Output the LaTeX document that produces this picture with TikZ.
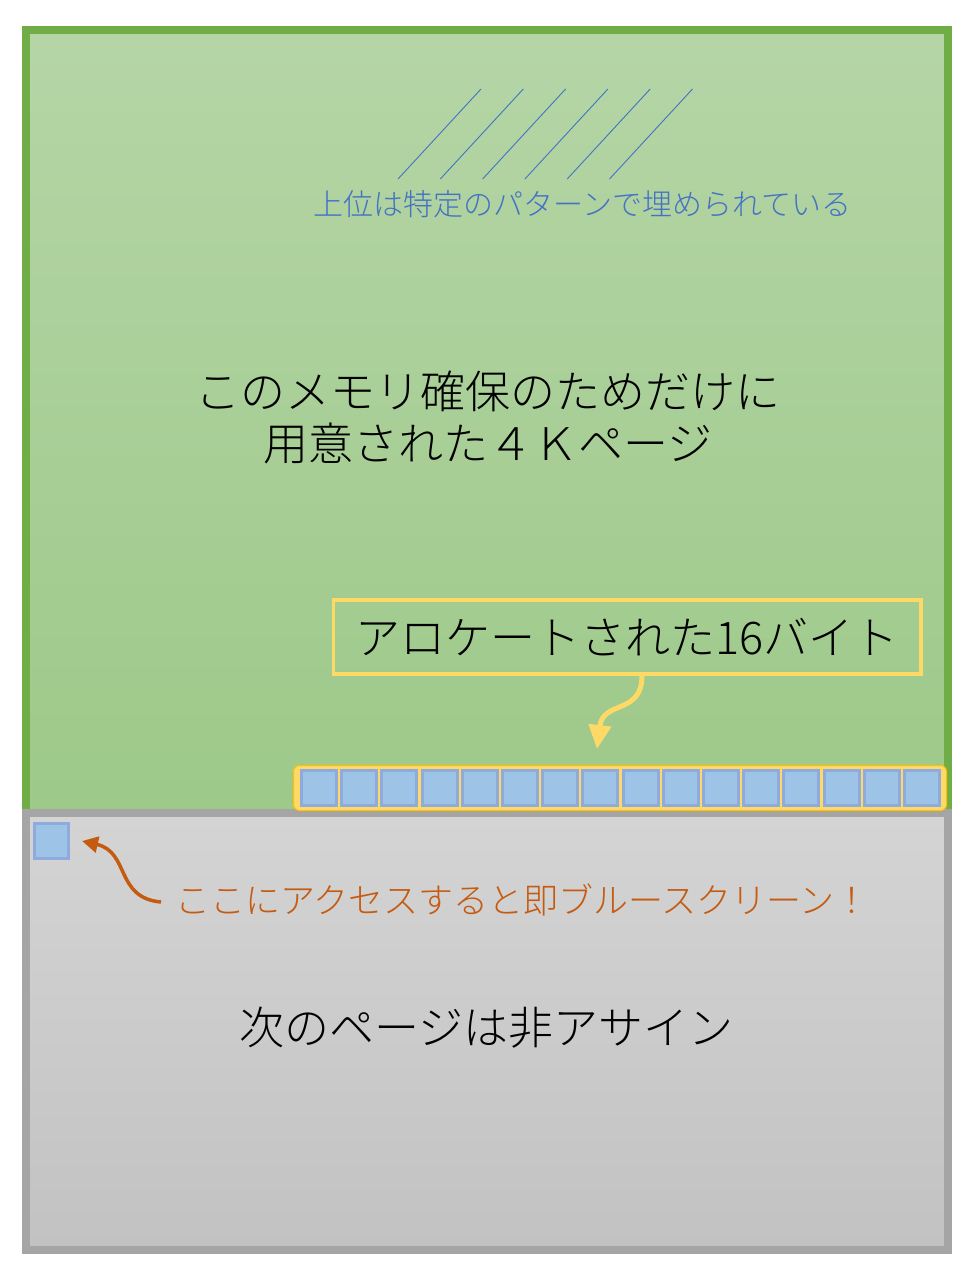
\documentclass[tikz,border=0pt]{standalone}
\usepackage{fontspec}
\setmainfont{Noto Sans CJK JP}[UprightFont={* Light}]
\usetikzlibrary{arrows.meta}
\definecolor{gborder}{HTML}{70AD47}
\definecolor{gtop}{HTML}{B5D5A6}
\definecolor{gbot}{HTML}{9DC989}
\definecolor{rborder}{HTML}{A5A5A5}
\definecolor{rtop}{HTML}{D4D4D4}
\definecolor{rbot}{HTML}{C2C2C2}
\definecolor{yel}{HTML}{FFD966}
\definecolor{yeldark}{HTML}{FFC000}
\definecolor{sqfill}{HTML}{9DC3E6}
\definecolor{sqline}{HTML}{8FAADC}
\definecolor{bluetxt}{HTML}{4472C4}
\definecolor{orng}{HTML}{C55A11}
\tikzset{
  cell/.style={draw=sqline, fill=sqfill, line width=3pt, minimum width=35pt, minimum height=35pt, inner sep=0pt},
  bigtext/.style={inner sep=0pt, font=\fontsize{45}{52}\selectfont, text=black},
}
\begin{document}
\begin{tikzpicture}[x=1pt,y=-1pt]
\useasboundingbox (0,0) rectangle (977,1280);
% green page
\draw[line width=8pt, draw=gborder, top color=gtop, bottom color=gbot] (26,30) rectangle (948,813);
% gray page
\draw[line width=8pt, draw=rborder, top color=rtop, bottom color=rbot] (26,813) rectangle (948,1250);
% hatch lines
\foreach \i in {0,...,5}{
  \draw[bluetxt, line width=0.9pt] ({398+42.3*\i},179) -- ({481+42.3*\i},89);
}
\node[inner sep=0pt, font=\fontsize{30}{36}\selectfont, text=bluetxt] (pat) at (582.5,204) {上位は特定のパターンで埋められている};
\node[bigtext, align=center] (main) at (488,417) {このメモリ確保のためだけに\\用意された４Ｋページ};
% callout
\node[bigtext, draw=yel, line width=3.5pt, minimum width=587.5pt, minimum height=74pt] (box) at (627,637) {アロケートされた16バイト};
% allocated row
\node[draw=yeldark, fill=yel, line width=1pt, rounded corners=6pt, minimum width=653pt, minimum height=45pt, inner sep=0pt] (row) at (620,788) {};
\foreach \i in {1,...,16}{
  \node[cell] (sq\i) at ({319+40.2*(\i-1)},788) {};
}
\coordinate (ytip) at (597,749);
\draw[yel, line width=5pt, -{Triangle[width=22pt,length=24pt]}] ([xshift=15pt]box.south) .. controls (642,715) and (603,700) .. (ytip);
% next page square
\node[cell, minimum width=34pt, minimum height=35pt] (nsq) at (51.5,841) {};
\node[inner sep=0pt, anchor=west, font=\fontsize{35}{40}\selectfont, text=orng] (warn) at (175,900) {ここにアクセスすると即ブルースクリーン！};
\draw[orng, line width=3.5pt, -{Triangle[width=16pt,length=16pt]}] ([xshift=-14pt,yshift=-2pt]warn.west) .. controls (115,898) and (130,852) .. ([xshift=12pt]nsq.east);
\node[bigtext] (next) at (486.5,1028) {次のページは非アサイン};
\end{tikzpicture}
\end{document}
